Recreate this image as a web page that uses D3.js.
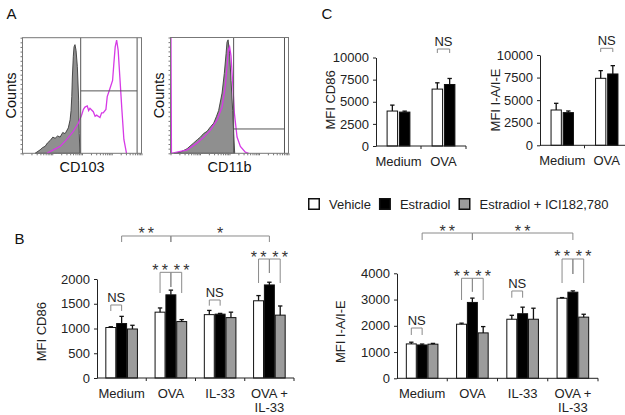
<!DOCTYPE html>
<html lang="en">
<head>
<meta charset="UTF-8">
<title>Estradiol and DC activation markers</title>
<script src="https://cdnjs.cloudflare.com/ajax/libs/d3/7.8.5/d3.min.js"></script>
<style>
    body { margin: 0; background: #fff; }
    svg { display: block; font-family: "Liberation Sans", Arial, sans-serif; }
    .tick text { font-family: "Liberation Sans", Arial, sans-serif; font-size: 13px; fill: #222; }
    .bar-axis .domain, .bar-axis .tick line { stroke: #222; }
    .hist-axis .domain { stroke: none; }
    .hist-axis .tick line { stroke: #777; }
</style>
</head>
<body>
<svg id="fig" width="625" height="415"></svg>
<script>
// --- Data ---
const seriesNames = ["Vehicle", "Estradiol", "Estradiol + ICI182,780"];
const seriesFill = ["#ffffff", "#000000", "#9c9c9c"];

// panel B / D groups
const groups4 = ["Medium", "OVA", "IL-33", "OVA + IL-33"];
const groupLines4 = [["Medium"], ["OVA"], ["IL-33"], ["OVA +", "IL-33"]];

// panel B: MFI CD86
const cd86Vehicle = [1020, 1330, 1280, 1560];
const cd86Estradiol = [1100, 1680, 1290, 1880];
const cd86Ici = [990, 1140, 1220, 1270];
const cd86VehicleErr = [15, 85, 85, 105];
const cd86EstradiolErr = [145, 95, 15, 55];
const cd86IciErr = [75, 40, 110, 185];
const cd86Ticks = [0, 500, 1000, 1500, 2000];

// panel B right: MFI I-A/I-E
const iaVehicle = [1310, 2060, 2250, 3050];
const iaEstradiol = [1270, 2890, 2460, 3280];
const iaIci = [1300, 1730, 2250, 2330];
const iaVehicleErr = [65, 40, 150, 25];
const iaEstradiolErr = [35, 165, 250, 50];
const iaIciErr = [30, 240, 420, 110];
const iaTicks = [0, 1000, 2000, 3000, 4000];

// panel C groups
const groups2 = ["Medium", "OVA"];
const cCd86Vehicle = [3950, 6430];
const cCd86Estradiol = [3830, 6950];
const cCd86VehicleErr = [670, 710];
const cCd86EstradiolErr = [110, 680];
const cIaVehicle = [3910, 7420];
const cIaEstradiol = [3620, 7900];
const cIaVehicleErr = [740, 850];
const cIaEstradiolErr = [180, 920];
const cTicks = [0, 2500, 5000, 7500, 10000];

// significance brackets: group(s), series (null = group centre), top / leg ends in data units
const cd86Brackets = [
    {g: [0, 0], s: [0, 1], top: 1475, legs: [1354, 1354], text: "NS", at: "mid"},
    {g: [1, 1], s: [0, 1], top: 2135, legs: [1717, 1838], text: "**", at: "a"},
    {g: [1, 1], s: [1, 2], top: 2135, legs: [1838, 1717], text: "**", at: "b"},
    {g: [2, 2], s: [0, 1], top: 1576, legs: [1461, 1461], text: "NS", at: "mid"},
    {g: [3, 3], s: [0, 1], top: 2404, legs: [1919, 2121], text: "**", at: "a"},
    {g: [3, 3], s: [1, 2], top: 2404, legs: [2121, 1919], text: "**", at: "b"},
    {g: [0, 1], s: [null, null], top: 2869, legs: [2747, 2747], text: "**", at: "mid"},
    {g: [1, 3], s: [null, null], top: 2869, legs: [2747, 2747], text: "*", at: "mid"}
];
const iaBrackets = [
    {g: [0, 0], s: [0, 1], top: 1916, legs: [1650, 1650], text: "NS", at: "mid"},
    {g: [1, 1], s: [0, 1], top: 3810, legs: [2983, 3299], text: "**", at: "a"},
    {g: [1, 1], s: [1, 2], top: 3810, legs: [3299, 2983], text: "**", at: "b"},
    {g: [2, 2], s: [0, 1], top: 3326, legs: [3070, 3070], text: "NS", at: "mid"},
    {g: [3, 3], s: [0, 1], top: 4545, legs: [3630, 3973], text: "**", at: "a"},
    {g: [3, 3], s: [1, 2], top: 4545, legs: [3973, 3630], text: "**", at: "b"},
    {g: [0, 1], s: [null, null], top: 5535, legs: [5269, 5269], text: "**", at: "mid"},
    {g: [1, 3], s: [null, null], top: 5535, legs: [5269, 5269], text: "**", at: "mid"}
];
const cCd86Brackets = [{g: [1, 1], s: [0, 1], top: 10960, legs: [10508, 10508], text: "NS", at: "mid"}];
const cIaBrackets = [{g: [1, 1], s: [0, 1], top: 10742, legs: [10332, 10332], text: "NS", at: "mid"}];

// panel A histograms: [channel (0-1000), % of max count]
const cd103Ctrl = [[106, 0], [148, 3], [170, 5], [190, 6], [210, 9], [232, 11], [255, 14], [274, 13], [295, 15], [316, 14],
    [338, 18], [358, 17], [385, 22], [400, 29], [408, 37], [414, 49], [419, 66], [427, 84], [433, 92], [441, 94],
    [450, 89], [461, 75], [472, 46], [477, 17], [483, 0]];
const cd103Stain = [[204, 0], [260, 3], [316, 6], [372, 12], [427, 19], [469, 26], [497, 33], [512, 38], [525, 40], [544, 41],
    [556, 37], [567, 39], [595, 36], [610, 32], [623, 33], [651, 31], [665, 35], [678, 35], [701, 38], [712, 49],
    [735, 56], [757, 63], [768, 78], [779, 92], [791, 98], [804, 89], [818, 66], [835, 38], [852, 12], [874, 0]];
const cd11bCtrl = [[28, 0], [85, 1], [141, 4], [197, 9], [230, 12], [254, 14], [280, 17], [310, 19], [340, 23], [366, 26],
    [390, 32], [408, 37], [437, 52], [456, 69], [471, 86], [479, 96], [488, 98], [501, 86], [513, 63], [527, 37],
    [535, 17], [544, 0]];
const cd11bStain = [[4, 100], [8, 0], [141, 3], [226, 9], [282, 14], [338, 20], [395, 29], [437, 40], [465, 58], [479, 75],
    [490, 89], [501, 92], [513, 84], [527, 61], [541, 35], [564, 14], [592, 6], [634, 1], [662, 0]];
const cd103Gate = {x: 489, x2: 963, y: 54};
const cd11bGate = {x: 535, x2: 966, y: 21};

// --- Setup ---
const svg = d3.select("#fig");

function panelLetter(txt, x, y) {
    svg.append("text").attr("x", x).attr("y", y)
        .style("font-size", "15px").attr("fill", "#111").text(txt);
}

// --- Histogram panel ---
function histPanel(cfg) {
    const g = svg.append("g");
    const x = d3.scaleLinear().domain([0, 1000]).range([cfg.x0, cfg.x1]);
    const y = d3.scaleLinear().domain([0, 100]).range([cfg.yBot, cfg.yTop]);
    const xLog = d3.scaleLog().domain([1, 10000]).range([cfg.x0, cfg.x1]);

    const area = d3.area().x(d => x(d[0])).y0(y(0)).y1(d => y(d[1]));
    const line = d3.line().x(d => x(d[0])).y(d => y(d[1]));

    g.append("path").attr("d", area(cfg.ctrl))
        .attr("fill", "#8f8f8f").attr("stroke", "#3a3a3a").attr("stroke-width", 0.9);
    g.append("path").attr("d", line(cfg.stain))
        .attr("fill", "none").attr("stroke", "#d63ae6").attr("stroke-width", 1.3);

    // gate lines
    const gl = g.append("g").attr("stroke", "#555").attr("stroke-width", 1);
    gl.append("line").attr("x1", x(cfg.gate.x)).attr("x2", x(cfg.gate.x)).attr("y1", cfg.yTop).attr("y2", cfg.yBot);
    gl.append("line").attr("x1", x(cfg.gate.x2)).attr("x2", x(cfg.gate.x2)).attr("y1", cfg.yTop).attr("y2", cfg.yBot);
    gl.append("line").attr("x1", x(cfg.gate.x)).attr("x2", x(cfg.gate.x2)).attr("y1", y(cfg.gate.y)).attr("y2", y(cfg.gate.y));

    g.append("rect").attr("x", cfg.x0).attr("y", cfg.yTop)
        .attr("width", cfg.x1 - cfg.x0).attr("height", cfg.yBot - cfg.yTop)
        .attr("fill", "none").attr("stroke", "#777").attr("stroke-width", 1);

    // dense minor ticks along left and bottom edges
    g.append("g").attr("class", "hist-axis").attr("transform", `translate(${cfg.x0},0)`)
        .call(d3.axisLeft(y).tickValues(d3.range(0, 101, 4)).tickSize(2).tickFormat(""));
    g.append("g").attr("class", "hist-axis").attr("transform", `translate(0,${cfg.yBot})`)
        .call(d3.axisBottom(xLog).ticks(40).tickSize(2).tickFormat(""));

    g.append("text").attr("transform", `translate(${cfg.x0 - 7},${(cfg.yTop + cfg.yBot) / 2}) rotate(-90)`)
        .attr("text-anchor", "middle").style("font-size", "14.5px").attr("fill", "#111").text("Counts");
    g.append("text").attr("x", (cfg.x0 + cfg.x1) / 2).attr("y", cfg.yBot + 18.5)
        .attr("text-anchor", "middle").style("font-size", "14.5px").attr("fill", "#111").text(cfg.label);
}

// --- Bar panel ---
function barPanel(cfg) {
    const g = svg.append("g");
    const x = d3.scaleBand().domain(d3.range(cfg.groups.length)).range([cfg.x0, cfg.x1]);
    const y = d3.scaleLinear().domain([0, d3.max(cfg.ticks)]).range([cfg.y0, cfg.y1]);
    const xs = d3.scaleBand().domain(d3.range(cfg.means.length)).range([-cfg.half, cfg.half]).paddingInner(cfg.gap);
    const gc = i => x(i) + x.bandwidth() / 2;
    const bc = (i, s) => s === null ? gc(i) : gc(i) + xs(s) + xs.bandwidth() / 2;

    // bars and error bars
    cfg.means.forEach((vals, s) => {
        vals.forEach((v, i) => {
            g.append("rect")
                .attr("x", gc(i) + xs(s)).attr("y", y(v))
                .attr("width", xs.bandwidth()).attr("height", y(0) - y(v))
                .attr("fill", seriesFill[s]).attr("stroke", "#111").attr("stroke-width", 1);
            const e = cfg.errs[s][i];
            const cx = bc(i, s);
            g.append("line").attr("x1", cx).attr("x2", cx).attr("y1", y(v)).attr("y2", y(v + e))
                .attr("stroke", "#111").attr("stroke-width", 1.3);
            g.append("line").attr("x1", cx - 2.2).attr("x2", cx + 2.2).attr("y1", y(v + e)).attr("y2", y(v + e))
                .attr("stroke", "#111").attr("stroke-width", 1.3);
        });
    });

    // y axis
    g.append("g").attr("class", "bar-axis").attr("transform", `translate(${cfg.x0},0)`)
        .call(d3.axisLeft(y).tickValues(cfg.ticks).tickFormat(d3.format("d"))
            .tickSize(3).tickSizeOuter(0).tickPadding(4));

    // x axis: baseline with ticks at group boundaries
    g.append("line").attr("x1", cfg.x0).attr("x2", cfg.x1).attr("y1", y(0)).attr("y2", y(0))
        .attr("stroke", "#222").attr("stroke-width", 1);
    d3.range(1, cfg.groups.length + 1).forEach(i => {
        const bx = i < cfg.groups.length ? x(i) : cfg.x1;
        g.append("line").attr("x1", bx).attr("x2", bx).attr("y1", y(0)).attr("y2", y(0) + 3)
            .attr("stroke", "#222");
    });
    cfg.lines.forEach((ls, i) => {
        ls.forEach((t, k) => {
            g.append("text").attr("x", gc(i)).attr("y", y(0) + 20 + k * 13.5)
                .attr("text-anchor", "middle").style("font-size", "13px").attr("fill", "#222").text(t);
        });
    });

    // y label
    g.append("text").attr("transform", `translate(${cfg.labelX},${cfg.labelY}) rotate(-90)`)
        .attr("text-anchor", "middle").style("font-size", "13px").attr("fill", "#222").text(cfg.yLabel);

    // brackets
    cfg.brackets.forEach(b => {
        const xa = bc(b.g[0], b.s[0]);
        const xb = bc(b.g[1], b.s[1]);
        const yt = y(b.top);
        g.append("path")
            .attr("d", `M${xa},${y(b.legs[0])}V${yt}H${xb}V${y(b.legs[1])}`)
            .attr("fill", "none").attr("stroke", "#8a8a8a").attr("stroke-width", 1);
        const tx = b.at === "a" ? xa : b.at === "b" ? xb : (xa + xb) / 2;
        if (b.text === "NS") {
            g.append("text").attr("x", tx).attr("y", yt - 3).attr("text-anchor", "middle")
                .style("font-size", "13px").attr("fill", "#222").text("NS");
        } else {
            g.append("text").attr("x", tx).attr("y", yt + 3.5).attr("text-anchor", "middle")
                .style("font-size", "16px").attr("fill", "#333")
                .text(b.text.split("").join("\u2009"));
        }
    });
}

// --- Panel A ---
panelLetter("A", 6.5, 18.5);
histPanel({x0: 22.5, x1: 141.5, yTop: 37.7, yBot: 153.3, ctrl: cd103Ctrl, stain: cd103Stain, gate: cd103Gate, label: "CD103"});
histPanel({x0: 170.5, x1: 288.5, yTop: 37.5, yBot: 153.3, ctrl: cd11bCtrl, stain: cd11bStain, gate: cd11bGate, label: "CD11b"});

// --- Panel C ---
panelLetter("C", 321.5, 18.5);
barPanel({
    groups: groups2, lines: groups2.map(d => [d]), ticks: cTicks,
    means: [cCd86Vehicle, cCd86Estradiol], errs: [cCd86VehicleErr, cCd86EstradiolErr],
    x0: 376, x1: 466, y0: 146, y1: 57.5, half: 11.4, gap: 0.15,
    yLabel: "MFI CD86", labelX: 334.5, labelY: 100, brackets: cCd86Brackets
});
barPanel({
    groups: groups2, lines: groups2.map(d => [d]), ticks: cTicks,
    means: [cIaVehicle, cIaEstradiol], errs: [cIaVehicleErr, cIaEstradiolErr],
    x0: 540, x1: 629, y0: 145.3, y1: 55, half: 11.2, gap: 0.15,
    yLabel: "MFI I-A/I-E", labelX: 499.5, labelY: 100, brackets: cIaBrackets
});

// --- Legend ---
const legend = svg.append("g").attr("transform", "translate(308,198)");
let lx = 0;
seriesNames.forEach((name, i) => {
    legend.append("rect").attr("x", lx + 0.75).attr("y", 0.75).attr("width", 10.5).attr("height", 10.5)
        .attr("fill", seriesFill[i]).attr("stroke", "#111").attr("stroke-width", 1.5);
    const t = legend.append("text").attr("x", lx + 21).attr("y", 10.5)
        .style("font-size", "13px").attr("fill", "#222").text(name);
    lx += 21 + t.node().getComputedTextLength() + 8;
});

// --- Panel B ---
panelLetter("B", 14.5, 243.5);
barPanel({
    groups: groups4, lines: groupLines4, ticks: cd86Ticks,
    means: [cd86Vehicle, cd86Estradiol, cd86Ici], errs: [cd86VehicleErr, cd86EstradiolErr, cd86IciErr],
    x0: 97, x1: 294, y0: 378, y1: 279, half: 15.8, gap: 0.08,
    yLabel: "MFI CD86", labelX: 46.2, labelY: 331.7, brackets: cd86Brackets
});
barPanel({
    groups: groups4, lines: groupLines4, ticks: iaTicks,
    means: [iaVehicle, iaEstradiol, iaIci], errs: [iaVehicleErr, iaEstradiolErr, iaIciErr],
    x0: 397, x1: 598, y0: 378.3, y1: 273.3, half: 15.8, gap: 0.08,
    yLabel: "MFI I-A/I-E", labelX: 345, labelY: 331.7, brackets: iaBrackets
});
</script>
</body>
</html>
